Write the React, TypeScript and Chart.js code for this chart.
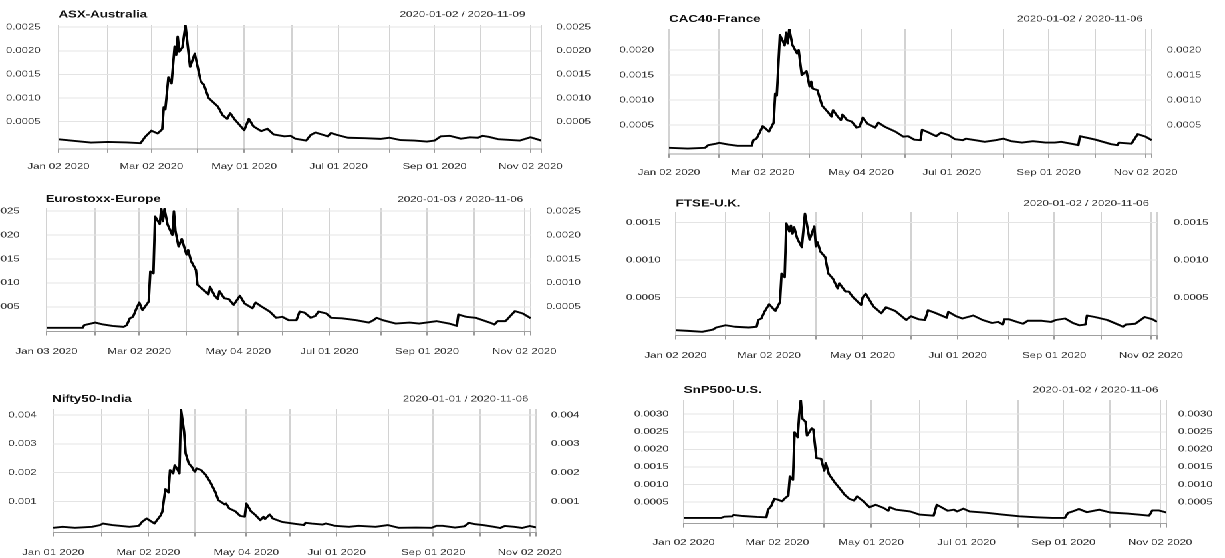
import React, { useEffect, useRef } from "react";
import { Chart, registerables } from "chart.js";

Chart.register(...registerables);

// ---------- data (x = days since 2020-01-01, y = value) ----------
const asxDay = [1,22,33,45,54,57,61,65,68,69,70,72,74,76,77,78,79,81,83,86,89,93,95,98,104,107,110,112,115,121,124,127,132,136,140,147,151,154,161,164,167,172,175,177,181,188,199,209,215,222,231,239,244,248,254,261,267,272,275,279,285,299,306,313];
const asxVal = [1.28e-4,0.58e-4,0.72e-4,0.6e-4,0.44e-4,1.8e-4,3.1e-4,2.5e-4,3.4e-4,8.1e-4,7.6e-4,14.4e-4,13.1e-4,20.9e-4,19.1e-4,23.0e-4,19.8e-4,20.7e-4,25.4e-4,16.6e-4,19.4e-4,13.5e-4,12.8e-4,10.0e-4,8.2e-4,6.4e-4,5.6e-4,6.8e-4,5.4e-4,3.2e-4,5.6e-4,4.0e-4,3.0e-4,3.5e-4,2.3e-4,1.9e-4,2.0e-4,1.4e-4,1.0e-4,2.2e-4,2.7e-4,2.2e-4,1.9e-4,2.6e-4,2.2e-4,1.6e-4,1.5e-4,1.36e-4,1.6e-4,1.1e-4,1.0e-4,0.8e-4,1.0e-4,1.9e-4,2.0e-4,1.4e-4,1.7e-4,1.6e-4,2.0e-4,1.8e-4,1.3e-4,1.0e-4,1.7e-4,1.0e-4];

const cacDay = [1,13,24,26,31,33,39,45,54,55,57,59,61,65,68,69,70,72,74,75,76,77,78,80,83,84,86,89,91,92,93,96,99,103,105,106,109,111,112,115,118,121,123,125,128,133,135,139,146,151,154,158,162,163,166,172,175,180,184,189,191,197,203,210,215,220,227,234,242,248,252,260,263,264,274,284,288,289,297,301,306,310];
const cacVal = [0.47e-4,0.33e-4,0.47e-4,1.0e-4,1.3e-4,1.47e-4,1.13e-4,0.87e-4,0.87e-4,2.0e-4,2.3e-4,3.5e-4,4.8e-4,3.7e-4,5.5e-4,11.3e-4,10.9e-4,23.0e-4,21.7e-4,20.9e-4,23.5e-4,21.3e-4,24.2e-4,21.0e-4,19.3e-4,20.0e-4,15.0e-4,15.8e-4,12.7e-4,13.7e-4,12.3e-4,12.0e-4,8.9e-4,7.5e-4,6.7e-4,8.0e-4,6.7e-4,6.0e-4,7.1e-4,6.0e-4,5.7e-4,4.5e-4,4.7e-4,6.5e-4,5.3e-4,4.5e-4,5.5e-4,4.7e-4,3.7e-4,2.7e-4,2.8e-4,2.1e-4,2.0e-4,4.1e-4,3.7e-4,2.8e-4,3.5e-4,3.0e-4,2.2e-4,2.0e-4,2.3e-4,2.0e-4,1.67e-4,2.0e-4,2.3e-4,1.8e-4,1.53e-4,1.8e-4,1.53e-4,1.53e-4,1.67e-4,1.2e-4,1.0e-4,2.8e-4,2.1e-4,1.2e-4,1.0e-4,1.5e-4,1.3e-4,3.2e-4,2.7e-4,2.0e-4];

const euroDay = [2,12,25,26,33,38,44,51,53,55,57,59,61,63,67,68,70,71,74,75,76,77,79,82,83,84,86,88,91,92,94,97,98,102,105,106,109,111,112,115,118,121,125,128,133,135,139,144,148,152,156,161,163,166,170,173,175,180,183,190,199,207,210,212,216,224,233,239,250,258,263,264,269,275,284,287,289,294,300,305,310];
const euroVal = [0.6e-4,0.6e-4,0.6e-4,1.16e-4,1.7e-4,1.3e-4,1.0e-4,0.8e-4,1.16e-4,2.6e-4,2.9e-4,4.5e-4,5.9e-4,4.3e-4,6.1e-4,12.4e-4,12.0e-4,23.9e-4,22.3e-4,25.5e-4,22.9e-4,25.5e-4,22.2e-4,20.0e-4,25.0e-4,20.8e-4,17.6e-4,19.2e-4,15.9e-4,16.9e-4,14.5e-4,12.7e-4,9.6e-4,8.5e-4,7.6e-4,9.2e-4,7.3e-4,6.6e-4,8.3e-4,6.8e-4,6.6e-4,5.4e-4,7.3e-4,5.7e-4,4.7e-4,5.9e-4,5.0e-4,4.0e-4,2.7e-4,2.9e-4,2.2e-4,2.2e-4,4.0e-4,3.8e-4,2.7e-4,3.1e-4,4.0e-4,3.6e-4,2.7e-4,2.6e-4,2.2e-4,1.7e-4,2.2e-4,2.7e-4,2.2e-4,1.5e-4,1.7e-4,1.5e-4,2.0e-4,1.5e-4,1.0e-4,3.4e-4,2.9e-4,2.7e-4,1.7e-4,1.3e-4,2.0e-4,2.0e-4,4.1e-4,3.6e-4,2.6e-4];

const ftseDay = [1,9,18,25,27,33,39,48,53,54,56,58,61,65,68,69,71,72,74,75,76,77,79,82,84,87,90,91,92,94,97,99,102,105,106,110,112,115,120,121,123,128,133,136,142,149,152,157,161,163,167,175,176,181,185,192,198,204,208,211,212,215,220,224,227,236,242,245,251,256,260,264,265,270,278,286,288,290,296,302,307,310];
const ftseVal = [0.64e-4,0.55e-4,0.42e-4,0.73e-4,1.0e-4,1.3e-4,1.1e-4,1.0e-4,1.1e-4,2.0e-4,2.2e-4,3.1e-4,4.1e-4,3.2e-4,4.4e-4,8.2e-4,7.7e-4,14.9e-4,13.8e-4,14.6e-4,13.5e-4,14.4e-4,12.9e-4,11.7e-4,16.2e-4,12.7e-4,14.5e-4,11.8e-4,12.4e-4,11.1e-4,10.4e-4,8.2e-4,7.5e-4,6.2e-4,6.9e-4,5.8e-4,5.8e-4,5.0e-4,4.0e-4,5.0e-4,5.5e-4,3.8e-4,2.9e-4,3.7e-4,3.2e-4,2.0e-4,2.5e-4,2.1e-4,2.0e-4,3.3e-4,3.0e-4,2.3e-4,3.1e-4,2.5e-4,2.2e-4,2.6e-4,2.0e-4,1.6e-4,1.75e-4,1.4e-4,2.1e-4,2.1e-4,1.75e-4,1.5e-4,1.9e-4,1.9e-4,1.75e-4,2.0e-4,2.2e-4,1.6e-4,1.3e-4,1.4e-4,2.6e-4,2.4e-4,2.0e-4,1.3e-4,1.1e-4,1.4e-4,1.5e-4,2.4e-4,2.1e-4,1.75e-4];

const niftyDay = [0,6,14,25,30,32,38,49,55,57,60,65,69,70,72,74,75,77,78,80,81,82,84,85,87,89,90,91,92,95,98,101,104,106,110,111,113,117,120,123,124,127,130,133,135,136,139,141,147,154,161,162,166,173,175,181,190,196,207,215,222,233,243,246,250,258,264,267,271,276,283,287,290,296,301,306,310];
const niftyVal = [0.85e-4,1.2e-4,0.85e-4,1.2e-4,1.8e-4,2.35e-4,1.8e-4,1.2e-4,1.54e-4,2.9e-4,4.1e-4,2.35e-4,5.2e-4,6.4e-4,14.3e-4,13.1e-4,20.9e-4,19.7e-4,22.6e-4,20.9e-4,19.7e-4,42.0e-4,34.2e-4,26.7e-4,23.2e-4,22.0e-4,20.9e-4,20.3e-4,21.5e-4,20.9e-4,19.2e-4,16.6e-4,13.4e-4,10.5e-4,9.0e-4,9.3e-4,7.6e-4,6.6e-4,5.0e-4,4.7e-4,9.3e-4,6.6e-4,5.2e-4,3.5e-4,4.7e-4,3.9e-4,5.5e-4,4.1e-4,2.9e-4,2.35e-4,1.8e-4,2.6e-4,2.35e-4,2.0e-4,2.35e-4,1.54e-4,1.2e-4,1.54e-4,1.2e-4,1.8e-4,0.85e-4,0.96e-4,0.85e-4,1.54e-4,1.54e-4,0.96e-4,1.4e-4,2.6e-4,2.1e-4,1.8e-4,1.2e-4,0.8e-4,1.5e-4,1.2e-4,0.8e-4,1.5e-4,1.0e-4];

const snpDay = [1,13,25,27,32,33,39,48,54,55,57,59,61,64,66,68,69,71,72,74,75,76,77,79,80,83,84,86,89,91,92,94,98,101,104,107,110,112,116,120,124,129,132,133,137,146,152,161,163,166,170,174,176,180,184,195,205,216,227,237,245,247,250,254,259,267,274,285,292,299,301,305,310];
const snpVal = [0.45e-4,0.45e-4,0.45e-4,0.8e-4,0.9e-4,1.3e-4,1.0e-4,0.73e-4,0.63e-4,2.8e-4,3.8e-4,5.9e-4,5.7e-4,5.2e-4,6.1e-4,6.8e-4,12.3e-4,11.3e-4,24.9e-4,23.4e-4,29.8e-4,34.0e-4,28.7e-4,27.9e-4,23.9e-4,26.0e-4,25.7e-4,17.5e-4,17.3e-4,13.9e-4,16.1e-4,12.9e-4,10.4e-4,8.8e-4,7.1e-4,5.9e-4,5.4e-4,6.6e-4,5.2e-4,3.5e-4,4.2e-4,3.3e-4,2.5e-4,3.5e-4,2.8e-4,2.3e-4,1.4e-4,1.1e-4,4.2e-4,3.5e-4,2.5e-4,2.8e-4,2.3e-4,3.1e-4,2.3e-4,1.9e-4,1.4e-4,0.9e-4,0.63e-4,0.45e-4,0.45e-4,1.9e-4,2.3e-4,3.0e-4,2.1e-4,2.8e-4,2.0e-4,1.7e-4,1.4e-4,1.1e-4,2.6e-4,2.6e-4,2.0e-4];

// ---------- tick positions / labels ----------
const ticksASX = [1,33,61,91,121,152,182,215,244,274,306,313];
const labelsASX = ["Jan 02 2020","","Mar 02 2020","","May 01 2020","","Jul 01 2020","","Sep 01 2020","","Nov 02 2020",""];
const ticksCAC = [1,33,61,91,124,152,182,215,244,274,306,310];
const labelsCAC = ["Jan 02 2020","","Mar 02 2020","","May 04 2020","","Jul 01 2020","","Sep 01 2020","","Nov 02 2020",""];
const ticksEURO = [2,33,61,91,124,152,182,215,244,274,306,310];
const labelsEURO = ["Jan 03 2020","","Mar 02 2020","","May 04 2020","","Jul 01 2020","","Sep 01 2020","","Nov 02 2020",""];
const ticksFTSE = [1,33,61,91,121,152,182,215,244,274,306,310];
const labelsFTSE = ["Jan 02 2020","","Mar 02 2020","","May 01 2020","","Jul 01 2020","","Sep 01 2020","","Nov 02 2020",""];
const ticksNIFTY = [0,31,61,91,124,152,182,215,244,274,306,310];
const labelsNIFTY = ["Jan 01 2020","","Mar 02 2020","","May 04 2020","","Jul 01 2020","","Sep 01 2020","","Nov 02 2020",""];
const ticksSNP = [1,33,61,91,121,152,182,215,244,274,306,310];
const labelsSNP = ["Jan 02 2020","","Mar 02 2020","","May 01 2020","","Jul 01 2020","","Sep 01 2020","","Nov 02 2020",""];

const yTicks5 = [0.0005, 0.001, 0.0015, 0.002, 0.0025];
const yTicks4 = [0.0005, 0.001, 0.0015, 0.002];
const yTicks3 = [0.0005, 0.001, 0.0015];
const yTicksNifty = [0.001, 0.002, 0.003, 0.004];
const yTicks6 = [0.0005, 0.001, 0.0015, 0.002, 0.0025, 0.003];

// ---------- layout ----------
const S = 1.33; // horizontal stretch of the whole picture
const FONT = '"Liberation Sans", Arial, Helvetica, sans-serif';
const LW = 50, RW = 50, PT = 28, TL = 4;

type Spec = {
  name: string; range: string; days: number[]; vals: number[];
  ticks: number[]; labels: string[]; yTicks: number[]; dec: number;
  yMin: number; yMax: number;
  L: number; R: number; T: number; B: number;
  titleY: number; nameDx: number; rangeDx: number;
  lGap: number; rGap: number; xPad: number;
};

const PANELS: Spec[] = [
  { name: "ASX-Australia", range: "2020-01-02 / 2020-11-09", days: asxDay, vals: asxVal,
    ticks: ticksASX, labels: labelsASX, yTicks: yTicks5, dec: 4, yMin: -0.000076, yMax: 0.002545,
    L: 59, R: 542, T: 25, B: 149, titleY: 14.7, nameDx: 0, rangeDx: 16, lGap: 18, rGap: 15, xPad: 8.9 },
  { name: "CAC40-France", range: "2020-01-02 / 2020-11-06", days: cacDay, vals: cacVal,
    ticks: ticksCAC, labels: labelsCAC, yTicks: yTicks4, dec: 4, yMin: -0.000074, yMax: 0.00242,
    L: 669, R: 1152, T: 29, B: 153.7, titleY: 19.3, nameDx: 0, rangeDx: 9, lGap: 15, rGap: 15, xPad: 9.9 },
  { name: "Eurostoxx-Europe", range: "2020-01-03 / 2020-11-06", days: euroDay, vals: euroVal,
    ticks: ticksEURO, labels: labelsEURO, yTicks: yTicks5, dec: 4, yMin: -0.0000168, yMax: 0.002567,
    L: 47, R: 530.6, T: 208.3, B: 331.3, titleY: 199.7, nameDx: -1, rangeDx: 7.6, lGap: 27, rGap: 15.4, xPad: 11.3 },
  { name: "FTSE-U.K.", range: "2020-01-02 / 2020-11-06", days: ftseDay, vals: ftseVal,
    ticks: ticksFTSE, labels: labelsFTSE, yTicks: yTicks3, dec: 4, yMin: -0.0000067, yMax: 0.001641,
    L: 676, R: 1158, T: 211.7, B: 335.3, titleY: 203.3, nameDx: 0, rangeDx: 8, lGap: 15, rGap: 16.7, xPad: 11.3 },
  { name: "Nifty50-India", range: "2020-01-01 / 2020-11-06", days: niftyDay, vals: niftyVal,
    ticks: ticksNIFTY, labels: labelsNIFTY, yTicks: yTicksNifty, dec: 3, yMin: -0.0000765, yMax: 0.004209,
    L: 53, R: 535.6, T: 409, B: 532.3, titleY: 399.3, nameDx: -1.3, rangeDx: 7.6, lGap: 16.6, rGap: 15, xPad: 11.3 },
  { name: "SnP500-U.S.", range: "2020-01-02 / 2020-11-06", days: snpDay, vals: snpVal,
    ticks: ticksSNP, labels: labelsSNP, yTicks: yTicks6, dec: 4, yMin: -0.0001165, yMax: 0.003406,
    L: 684, R: 1166.9, T: 400, B: 524, titleY: 390, nameDx: 0, rangeDx: 8, lGap: 15, rGap: 11.6, xPad: 10.2 },
];

function Panel({ spec }: { spec: Spec }) {
  const ref = useRef<HTMLCanvasElement | null>(null);
  const XH = TL + spec.xPad + 10.2 + 6;
  const left = spec.L / S - LW;
  const width = Math.round((spec.R - spec.L) / S + LW + RW);
  const top = spec.T - PT;
  const height = Math.round(spec.B - spec.T + PT + XH);

  useEffect(() => {
    if (!ref.current) return;
    const titlePlugin = {
      id: "xtsTitle",
      afterDraw(chart: any) {
        const { ctx, chartArea } = chart;
        ctx.save();
        ctx.textBaseline = "middle";
        ctx.fillStyle = "#111";
        ctx.font = `bold 10px ${FONT}`;
        ctx.textAlign = "left";
        ctx.fillText(spec.name, chartArea.left + spec.nameDx / S, spec.titleY - top);
        ctx.fillStyle = "#333";
        ctx.font = `8.6px ${FONT}`;
        ctx.textAlign = "right";
        ctx.fillText(spec.range, chartArea.right - spec.rangeDx / S, spec.titleY - top);
        ctx.restore();
      },
    };
    const tickFont = { family: FONT, size: 8.5 };
    const chart = new Chart(ref.current, {
      type: "line",
      data: {
        datasets: [
          {
            data: spec.days.map((d, i) => ({ x: d, y: spec.vals[i] })),
            borderColor: "#000",
            borderWidth: 1.9,
            borderJoinStyle: "round",
            pointRadius: 0,
            tension: 0,
            fill: false,
            xAxisID: "x",
            yAxisID: "y",
          },
        ],
      },
      options: {
        animation: false,
        responsive: false,
        devicePixelRatio: 2,
        events: [],
        layout: { padding: { top: PT, left: 0, right: 0, bottom: 0 } },
        plugins: { legend: { display: false }, tooltip: { enabled: false }, title: { display: false } },
        scales: {
          x: {
            type: "linear",
            min: spec.ticks[0],
            max: spec.ticks[spec.ticks.length - 1],
            afterBuildTicks: (s: any) => { s.ticks = spec.ticks.map((v) => ({ value: v })); },
            afterFit: (s: any) => { s.height = XH; },
            grid: { color: "#d2d2d2", lineWidth: 1, drawTicks: true, tickLength: TL, tickColor: "#9a9a9a" },
            border: { display: true, color: "#a0a0a0", width: 1 },
            ticks: {
              autoSkip: false, maxRotation: 0, minRotation: 0, padding: spec.xPad,
              color: "#333", font: tickFont,
              callback: (_v: any, i: number) => spec.labels[i] ?? "",
            },
          },
          y: {
            type: "linear", position: "left", min: spec.yMin, max: spec.yMax,
            afterBuildTicks: (s: any) => { s.ticks = spec.yTicks.map((v) => ({ value: v })); },
            afterFit: (s: any) => { s.width = LW; },
            grid: { color: "#e4e4e4", lineWidth: 1, drawTicks: false },
            border: { display: false },
            ticks: { padding: spec.lGap / S, color: "#333", font: tickFont,
              callback: (v: any) => Number(v).toFixed(spec.dec) },
          },
          y2: {
            type: "linear", position: "right", min: spec.yMin, max: spec.yMax,
            afterBuildTicks: (s: any) => { s.ticks = spec.yTicks.map((v) => ({ value: v })); },
            afterFit: (s: any) => { s.width = RW; },
            grid: { display: false, drawTicks: false },
            border: { display: false },
            ticks: { padding: spec.rGap / S, color: "#333", font: tickFont,
              callback: (v: any) => Number(v).toFixed(spec.dec) },
          },
        },
      } as any,
      plugins: [titlePlugin],
    });
    return () => chart.destroy();
  }, [spec]);

  return (
    <canvas
      ref={ref}
      width={width}
      height={height}
      style={{ position: "absolute", left, top, width, height }}
    />
  );
}

export default function App() {
  return (
    <div style={{ position: "fixed", left: 0, top: 0, width: 1225, height: 558, overflow: "hidden", background: "#fff" }}>
      <div style={{ position: "absolute", left: 0, top: 0, width: 1225 / S, height: 558, transform: `scaleX(${S})`, transformOrigin: "0 0" }}>
        {PANELS.map((p) => (
          <Panel key={p.name} spec={p} />
        ))}
      </div>
    </div>
  );
}
